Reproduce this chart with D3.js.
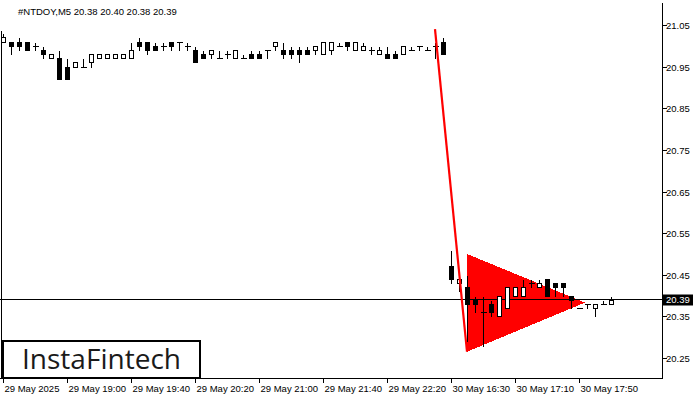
<!DOCTYPE html>
<html><head><meta charset="utf-8">
<script src="https://cdn.jsdelivr.net/npm/d3@7"></script>
<style>html,body{margin:0;padding:0;background:#fff;}svg{display:block;font-family:"Liberation Sans",Arial,sans-serif;}</style>
</head><body>
<svg id="c" width="700" height="400"></svg>
<script>
const title = "#NTDOY,M5  20.38 20.40 20.38 20.39";
const opens  = [21.01,21.01,21.01,21.01,21.00,20.99,20.97,20.97,20.95,20.95,20.95,20.96,20.97,20.97,20.97,20.97,20.97,21.01,21.01,21.00,21.00,21.01,21.01,21.00,20.99,20.98,20.98,20.97,20.98,20.97,20.97,20.98,20.98,20.99,21.00,20.99,20.99,20.99,20.99,20.99,20.98,20.99,21.00,21.01,20.99,20.99,20.99,20.98,20.98,20.98,20.98,20.99,21.00,20.99,21.00,21.01,
  20.47,20.43,20.42,20.39,20.36,20.38,20.35,20.37,20.40,20.40,20.43,20.42,20.44,20.43,20.43,20.40,20.37,20.38,20.37,20.38,20.38];
const highs  = [21.03,21.01,21.02,21.01,21.01,21.00,20.98,20.99,20.97,20.96,20.97,20.98,20.98,20.98,20.98,20.98,21.01,21.02,21.01,21.01,21.01,21.01,21.01,21.01,21.00,20.99,20.99,20.99,20.99,20.99,20.98,20.99,20.99,20.99,21.01,21.01,21.00,21.00,21.00,21.00,21.01,21.01,21.01,21.01,21.01,21.01,21.00,21.00,21.00,20.99,21.00,21.00,21.00,21.00,21.01,21.02,
  20.51,20.44,20.45,20.40,20.40,20.39,20.40,20.42,20.42,20.44,20.44,20.44,20.44,20.43,20.43,20.40,20.37,20.38,20.38,20.39,20.40];
const lows   = [21.01,20.98,20.99,20.99,20.99,20.97,20.97,20.92,20.92,20.95,20.95,20.95,20.97,20.97,20.97,20.97,20.97,20.99,20.98,20.99,20.99,20.99,20.99,20.99,20.96,20.97,20.97,20.97,20.97,20.97,20.97,20.97,20.97,20.97,20.99,20.97,20.97,20.96,20.98,20.98,20.98,20.98,21.00,20.99,20.99,20.99,20.98,20.98,20.97,20.97,20.98,20.99,20.99,20.99,20.97,20.98,
  20.43,20.41,20.29,20.36,20.28,20.35,20.35,20.37,20.40,20.40,20.42,20.42,20.40,20.40,20.40,20.37,20.37,20.37,20.35,20.38,20.38];
const closes = [21.02,21.00,21.00,20.99,21.00,20.98,20.98,20.92,20.92,20.96,20.95,20.98,20.98,20.98,20.98,20.98,20.99,21.00,20.99,20.99,21.00,21.00,21.01,21.00,20.96,20.97,20.99,20.97,20.98,20.99,20.97,20.97,20.97,20.99,21.01,20.98,20.98,20.98,20.98,21.00,21.01,21.01,21.00,21.00,21.01,21.00,20.99,20.99,20.97,20.97,21.00,20.99,21.00,20.99,21.00,20.98,
  20.44,20.44,20.38,20.38,20.36,20.36,20.40,20.42,20.42,20.42,20.43,20.43,20.40,20.42,20.42,20.39,20.37,20.38,20.38,20.38,20.39];
const timeLabels = ["29 May 2025","29 May 19:00","29 May 19:40","29 May 20:20","29 May 21:00","29 May 21:40","29 May 22:20","30 May 16:30","30 May 17:10","30 May 17:50"];
const timeLabelBars = [0,8,16,24,32,40,48,56,64,72];
const priceTicks = [20.25,20.35,20.45,20.55,20.65,20.75,20.85,20.95,21.05];
const lastPrice = 20.39;
// pennant pattern: pole [bar, price] and triangle vertices
const poleBars = [54, 58];
const polePrices = [21.04, 20.265];
const triBars = [58, 58, 72.75];
const triPrices = [20.50, 20.265, 20.383];
const logoText = "InstaFintech";

const svg = d3.select("#c");
const plotRight = 662, plotBottom = 378;
const x = d3.scaleLinear().domain([0, 82.375]).range([3, plotRight]);
const y = d3.scaleLinear().domain([20.25, 21.05]).range([358, 25]);
const px = v => Math.round(x(v)) + 0.5;
const py = v => Math.round(y(v)) + 0.5;

svg.append("clipPath").attr("id","clip").append("rect").attr("x",0).attr("y",0).attr("width",plotRight).attr("height",plotBottom);
const plot = svg.append("g").attr("clip-path","url(#clip)");

// triangle (under candles)
const tri = triBars.map((b,i)=>[x(b), y(triPrices[i])]);
plot.append("path").attr("d", d3.line()(tri) + "Z").attr("fill","#ff0000").attr("shape-rendering","crispEdges");

// last price line
plot.append("line").attr("x1",0).attr("x2",plotRight).attr("y1",py(lastPrice)-1).attr("y2",py(lastPrice)-1)
  .attr("stroke","#000").attr("stroke-width",1).attr("shape-rendering","crispEdges");

// candles
const data = opens.map((o,i)=>({i, o, h:highs[i], l:lows[i], c:closes[i]}));
const cg = plot.append("g").attr("shape-rendering","crispEdges");
data.forEach(d=>{
  const cx = px(d.i);
  cg.append("line").attr("x1",cx).attr("x2",cx).attr("y1",py(d.h)).attr("y2",py(d.l)+0.5).attr("stroke","#000");
  const top = Math.max(d.o,d.c), bot = Math.min(d.o,d.c);
  const yt = py(top), yb = py(bot);
  if (yb - yt < 1) {
    cg.append("line").attr("x1",cx-2.5).attr("x2",cx+3.5).attr("y1",yt).attr("y2",yt).attr("stroke","#000");
  } else {
    cg.append("rect").attr("x",cx-2).attr("y",yt).attr("width",4).attr("height",yb-yt)
      .attr("fill", d.c >= d.o ? "#fff" : "#000").attr("stroke","#000").attr("stroke-width",1);
  }
});

// pole
plot.append("line").attr("x1",x(poleBars[0])).attr("y1",y(polePrices[0])).attr("x2",x(poleBars[1])).attr("y2",y(polePrices[1]))
  .attr("stroke","#ff0000").attr("stroke-width",2.2);

// frame
svg.append("line").attr("x1",plotRight+0.5).attr("x2",plotRight+0.5).attr("y1",3).attr("y2",plotBottom+1).attr("stroke","#000").attr("shape-rendering","crispEdges");
svg.append("line").attr("x1",0).attr("x2",plotRight+1).attr("y1",plotBottom+0.5).attr("y2",plotBottom+0.5).attr("stroke","#000").attr("shape-rendering","crispEdges");
svg.append("line").attr("x1",1.5).attr("x2",1.5).attr("y1",31).attr("y2",plotBottom).attr("stroke","#000").attr("shape-rendering","crispEdges");

// y axis
const yAxis = svg.append("g");
priceTicks.forEach(t=>{
  const yy = py(t);
  yAxis.append("line").attr("x1",plotRight+1).attr("x2",plotRight+5).attr("y1",yy).attr("y2",yy).attr("stroke","#000").attr("shape-rendering","crispEdges");
  yAxis.append("text").attr("x",666).attr("y",yy+3.5).attr("font-size","9.5px").attr("fill","#000").text(t.toFixed(2));
});
// last price label
const ly = py(lastPrice)-1;
svg.append("rect").attr("x",plotRight+1).attr("y",ly-5).attr("width",30).attr("height",11).attr("fill","#000");
svg.append("text").attr("x",666).attr("y",ly+3.5).attr("font-size","9.5px").attr("fill","#fff").text(lastPrice.toFixed(2));

// x axis
const xAxis = svg.append("g");
timeLabels.forEach((lab,k)=>{
  const xx = px(timeLabelBars[k]);
  xAxis.append("line").attr("x1",xx).attr("x2",xx).attr("y1",plotBottom).attr("y2",plotBottom+5).attr("stroke","#000").attr("shape-rendering","crispEdges");
  xAxis.append("text").attr("x",xx+1).attr("y",392).attr("font-size","9.5px").attr("fill","#000").text(lab);
});

// title
svg.append("text").attr("x",18).attr("y",15).attr("font-size","9.5px").attr("fill","#000").text(title);

// logo
svg.append("rect").attr("x",3).attr("y",341).attr("width",197).attr("height",37).attr("fill","#fff").attr("stroke","#000").attr("stroke-width",2);
svg.append("text").attr("x",22).attr("y",369).attr("font-size","28px").attr("font-family","'Open Sans',sans-serif").attr("font-weight",500)
  .attr("fill","#1a1a1a").attr("textLength",159).attr("lengthAdjust","spacingAndGlyphs").text(logoText);
</script>
</body></html>
